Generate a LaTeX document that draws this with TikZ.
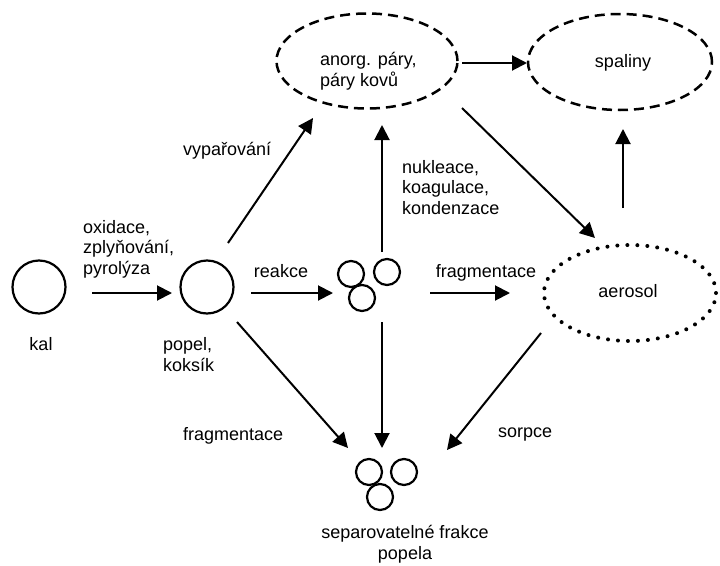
\documentclass[tikz,border=0pt]{standalone}
\usepackage{fontspec}
\setmainfont{Liberation Sans}
\usetikzlibrary{arrows.meta,shapes.geometric}
\begin{document}
\begin{tikzpicture}[x=1pt,y=-1pt,
 txt/.style={font=\fontsize{18}{20.7}\selectfont, inner sep=0pt, align=left},
 ring/.style={circle, draw, line width=2.2pt, inner sep=0pt},
 bigring/.style={ring, minimum size=53pt},
 smallring/.style={ring, minimum size=26pt},
 dashell/.style={ellipse, draw, line width=2.5pt, dash pattern=on 10pt off 6pt, inner sep=0pt},
 dotell/.style={ellipse, draw, line width=4pt, dash pattern=on 0pt off 10pt, line cap=round, inner sep=0pt},
 arr/.style={line width=2pt, -{Triangle[length=15pt,width=15pt]}}]
\useasboundingbox (0,0) rectangle (720,565);
% shapes
\node[dashell, minimum width=181pt, minimum height=95pt] (anorg) at (367,61) {};
\node[dashell, minimum width=184pt, minimum height=96pt] (spal) at (620,62) {};
\node[dotell, minimum width=172pt, minimum height=96pt] (aero) at (630,293) {};
\node[bigring] (kal) at (39,287) {};
\node[bigring] (popel) at (207,287) {};
\node[smallring] (m1) at (351,274) {};
\node[smallring] (m2) at (387,272) {};
\node[smallring] (m3) at (362,298) {};
\node[smallring] (b1) at (369,472) {};
\node[smallring] (b2) at (404,472) {};
\node[smallring] (b3) at (380,497) {};
% arrow end points
\coordinate (p1s) at (92,293);  \coordinate (p1e) at (172,293);
\coordinate (p2s) at (251,293); \coordinate (p2e) at (333,293);
\coordinate (p3s) at (430,293); \coordinate (p3e) at (510,293);
\coordinate (p4s) at (228,243); \coordinate (p4e) at (313,118);
\coordinate (p5s) at (382,252); \coordinate (p5e) at (382,125);
\coordinate (p6s) at (462,108); \coordinate (p6e) at (595,238);
\coordinate (p7s) at (623,208); \coordinate (p7e) at (623,129);
\coordinate (p8s) at (462,63);  \coordinate (p8e) at (527,63);
\coordinate (p9s) at (237,322); \coordinate (p9e) at (348,448);
\coordinate (p10s) at (382,322); \coordinate (p10e) at (382,448);
\coordinate (p11s) at (541,333); \coordinate (p11e) at (447,450);
\foreach \i in {1,...,11} \draw[arr] (p\i s) -- (p\i e);
% labels (base anchor = baseline of the last line)
\node[txt, anchor=base west] (lox) at (83,274.5) {oxidace,\\zplyňování,\\pyrolýza};
\node[txt, anchor=base] (lkal) at (41,350) {kal};
\node[txt, anchor=base west] (lpopel) at (163,371.5) {popel,\\koksík};
\node[txt, anchor=base] (lreak) at (281,277) {reakce};
\node[txt, anchor=base] (lfrag) at (486,277) {fragmentace};
\node[txt, anchor=base west] (lvyp) at (183,155) {vypařování};
\node[txt, anchor=base west] (lnuk) at (402,214.5) {nukleace,\\koagulace,\\kondenzace};
\node[txt, anchor=base west] (lfrag2) at (183,440) {fragmentace};
\node[txt, anchor=base west] (lsorp) at (498,437) {sorpce};
\node[txt, anchor=base, align=center] (lsep) at (405,559.5) {separovatelné frakce\\popela};
\node[txt, anchor=base west] (lanorg) at (320,86.5) {anorg. páry,\\páry kovů};
\node[txt, anchor=base] (lspal) at (623,67) {spaliny};
\node[txt, anchor=base] (laero) at (628,297) {aerosol};
\end{tikzpicture}
\end{document}
